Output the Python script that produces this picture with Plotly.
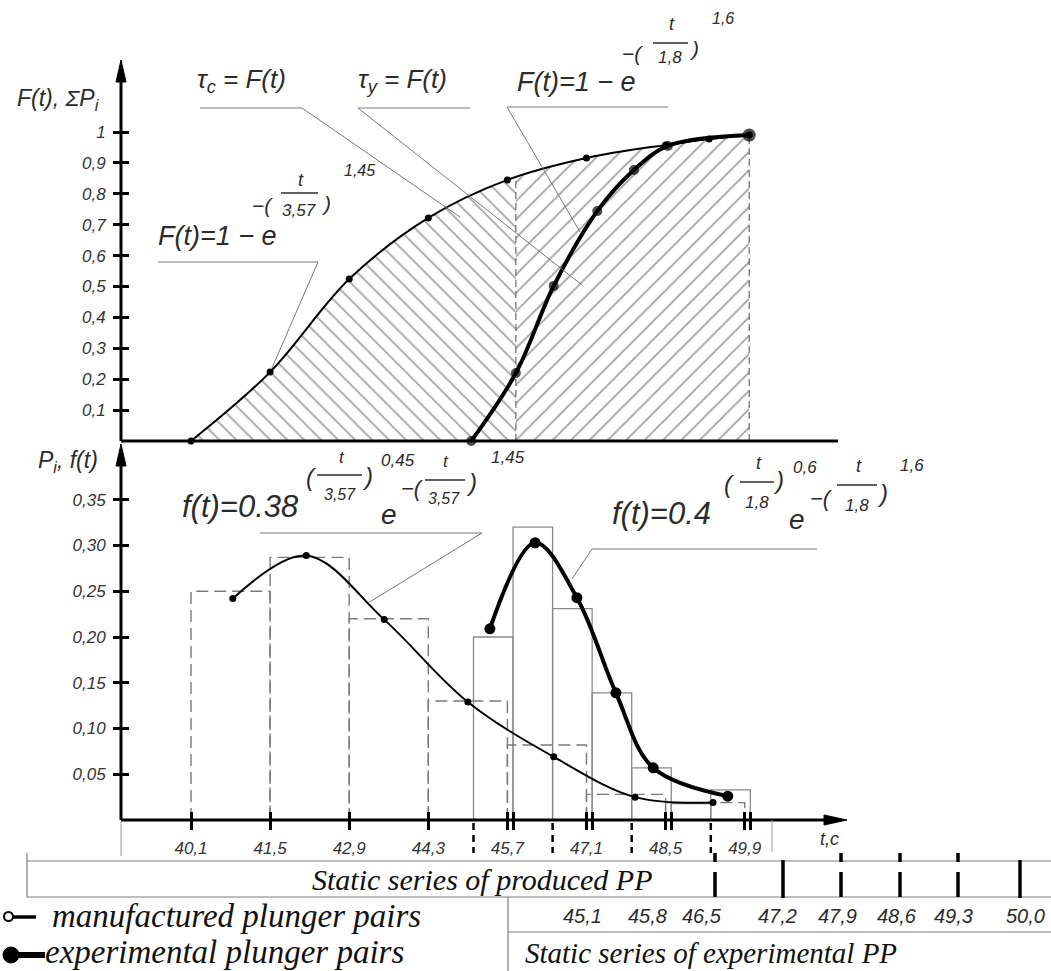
import plotly.graph_objects as go
import numpy as np

# ---------------- data ----------------
prod_edges = [40.1, 41.5, 42.9, 44.3, 45.7, 47.1, 48.5, 49.9]
prod_freq = [0.250, 0.287, 0.220, 0.130, 0.082, 0.028, 0.019]
exp_edges = [45.1, 45.8, 46.5, 47.2, 47.9, 48.6, 49.3, 50.0]
exp_freq = [0.200, 0.320, 0.231, 0.139, 0.057, 0.018, 0.033]

prod_cdf_t = [40.1, 41.5, 42.9, 44.3, 45.7, 47.1, 48.5, 49.27, 49.98]
prod_cdf = [0.0, 0.223, 0.524, 0.722, 0.845, 0.916, 0.958, 0.977, 0.990]
exp_cdf_t = [45.06, 45.85, 46.52, 47.29, 47.94, 48.54, 49.98]
exp_cdf = [0.0, 0.220, 0.502, 0.744, 0.877, 0.955, 0.990]

prod_pdf_t = [40.84, 42.14, 43.52, 45.00, 46.52, 47.96, 49.34]
prod_pdf = [0.242, 0.289, 0.219, 0.129, 0.069, 0.025, 0.019]
exp_pdf_t = [45.39, 46.19, 46.93, 47.62, 48.28, 49.60]
exp_pdf = [0.209, 0.303, 0.243, 0.139, 0.057, 0.026]

split_t, split_F = 45.85, 0.850      # boundary between tau_c and tau_y regions
end_t, end_F = 49.98, 0.990

F_ticks = [0.1, 0.2, 0.3, 0.4, 0.5, 0.6, 0.7, 0.8, 0.9, 1.0]
F_ticktext = ["0,1", "0,2", "0,3", "0,4", "0,5", "0,6", "0,7", "0,8", "0,9", "1"]
P_ticks = [0.05, 0.10, 0.15, 0.20, 0.25, 0.30, 0.35]
P_ticktext = ["0,05", "0,10", "0,15", "0,20", "0,25", "0,30", "0,35"]
prod_ticktext = ["40,1", "41,5", "42,9", "44,3", "45,7", "47,1", "48,5", "49,9"]
exp_ticktext = ["45,1", "45,8", "46,5", "47,2", "47,9", "48,6", "49,3", "50,0"]

# ---------------- layout geometry (pixels) ----------------
W, H = 1051, 971
PX_T0, T0, PX_PER_T = 191, 40.1, 56.5
PY_F0, PX_PER_F = 441, 309
PY_P0, PX_PER_P = 820, 915


def t_at(px):
    return T0 + (px - PX_T0) / PX_PER_T


def F_at(py):
    return (PY_F0 - py) / PX_PER_F


def P_at(py):
    return (PY_P0 - py) / PX_PER_P


def xp(px):
    return px / W


def yp(py):
    return 1 - py / H


GOST = "Liberation Sans, Arial, sans-serif"
SERIF = "Liberation Serif, DejaVu Serif, serif"
INK = "#2b2b2b"

fig = go.Figure()

# ---------------- top panel: hatched areas ----------------
fig.add_trace(go.Scatter(
    x=prod_cdf_t[:5] + [split_t], y=prod_cdf[:5] + [split_F],
    mode="lines", line=dict(width=0, shape="spline"), fill="tozeroy",
    fillcolor="rgba(0,0,0,0)",
    fillpattern=dict(shape="\\", size=12, solidity=0.14, fgcolor="#444444",
                     bgcolor="rgba(0,0,0,0)"),
    xaxis="x", yaxis="y", hoverinfo="skip", showlegend=False))
fig.add_trace(go.Scatter(
    x=[split_t] + prod_cdf_t[5:], y=[split_F] + prod_cdf[5:],
    mode="lines", line=dict(width=0, shape="spline"), fill="tozeroy",
    fillcolor="rgba(0,0,0,0)",
    fillpattern=dict(shape="/", size=13, solidity=0.14, fgcolor="#444444",
                     bgcolor="rgba(0,0,0,0)"),
    xaxis="x", yaxis="y", hoverinfo="skip", showlegend=False))
# dashed region boundaries
for tt, ff in [(split_t, split_F), (end_t, end_F)]:
    fig.add_trace(go.Scatter(x=[tt, tt], y=[0, ff], mode="lines",
                             line=dict(color="#6a6a6a", width=1.2, dash="7px,4px"),
                             xaxis="x", yaxis="y", hoverinfo="skip", showlegend=False))

# cumulative curves
fig.add_trace(go.Scatter(x=prod_cdf_t, y=prod_cdf, mode="lines+markers",
                         line=dict(color="black", width=2, shape="spline"),
                         marker=dict(size=7, color="black", line=dict(width=0)),
                         xaxis="x", yaxis="y", hoverinfo="skip", showlegend=False))
fig.add_trace(go.Scatter(x=exp_cdf_t, y=exp_cdf, mode="lines+markers",
                         line=dict(color="black", width=4, shape="spline"),
                         marker=dict(size=[10] * (len(exp_cdf) - 1) + [13], color="black",
                                     line=dict(width=0)),
                         xaxis="x", yaxis="y", hoverinfo="skip", showlegend=False))

# ---------------- bottom panel: histograms ----------------
hx, hy = [], []
for i, h in enumerate(prod_freq):
    a, b = prod_edges[i], prod_edges[i + 1]
    hx += [a, a, b, b, None]
    hy += [0, h, h, 0, None]
fig.add_trace(go.Scatter(x=hx, y=hy, mode="lines",
                         line=dict(color="#7a7a7a", width=1.4, dash="12px,6px"),
                         xaxis="x", yaxis="y2", hoverinfo="skip", showlegend=False))
fig.add_trace(go.Bar(x=exp_edges[:-1], y=exp_freq, width=list(np.diff(exp_edges)),
                     offset=0, marker=dict(color="rgba(0,0,0,0)",
                                           line=dict(color="#8a8a8a", width=1.3)),
                     xaxis="x", yaxis="y2", hoverinfo="skip", showlegend=False))
fig.add_trace(go.Scatter(x=prod_pdf_t, y=prod_pdf, mode="lines+markers",
                         line=dict(color="black", width=2, shape="spline"),
                         marker=dict(size=7, color="black", line=dict(width=0)),
                         xaxis="x", yaxis="y2", hoverinfo="skip", showlegend=False))
fig.add_trace(go.Scatter(x=exp_pdf_t, y=exp_pdf, mode="lines+markers",
                         line=dict(color="black", width=4, shape="spline"),
                         marker=dict(size=11, color="black", line=dict(width=0)),
                         xaxis="x", yaxis="y2", hoverinfo="skip", showlegend=False))

shapes = []
annotations = []


def seg(x0, y0, x1, y1, color="black", width=1, dash=None):
    shapes.append(dict(type="line", xref="paper", yref="paper",
                       x0=xp(x0), y0=yp(y0), x1=xp(x1), y1=yp(y1),
                       line=dict(color=color, width=width, dash=dash)))


def poly(pts, color="#777777", width=1, fill=None):
    path = "M " + " L ".join(f"{xp(a)} {yp(b)}" for a, b in pts)
    if fill:
        path += " Z"
    shapes.append(dict(type="path", xref="paper", yref="paper", path=path,
                       line=dict(color=color, width=width),
                       fillcolor=fill if fill else "rgba(0,0,0,0)"))


def txt(s, px, py, size, xanchor="center", family=GOST, color=INK, style="italic"):
    annotations.append(dict(text=s, x=xp(px), y=yp(py), xref="paper", yref="paper",
                            xanchor=xanchor, yanchor="middle", showarrow=False, borderpad=0,
                            font=dict(family=family, size=size, color=color, style=style)))


def frac(num, den, cx, x0, x1, ybar, ynum, yden, size=17):
    txt(num, cx + 2, ynum, size + 1)
    txt(den, cx, yden, size)
    seg(x0, ybar, x1, ybar, color=INK, width=1.6)


# ---------------- axes lines with arrows ----------------
AX_PX = 121
seg(AX_PX, PY_F0, 838, PY_F0, width=3)          # top panel t axis
seg(AX_PX, PY_F0, AX_PX, 78, width=3)           # F axis
poly([(AX_PX, 60), (AX_PX - 5, 82), (AX_PX + 5, 82)], color="black", width=1, fill="black")
seg(AX_PX, PY_P0, AX_PX, 462, width=3)          # P axis
poly([(AX_PX, 444), (AX_PX - 5, 466), (AX_PX + 5, 466)], color="black", width=1, fill="black")
seg(AX_PX, PY_P0, 828, PY_P0, width=3)          # bottom t axis
poly([(847, PY_P0), (824, PY_P0 - 5), (824, PY_P0 + 5)], color="black", width=1, fill="black")

# dashed marks below the axis at odd experimental edges
for e in exp_edges[::2]:
    shapes.append(dict(type="line", xref="x", yref="paper", x0=e, x1=e,
                       y0=yp(823), y1=yp(853), line=dict(color="black", width=2.5, dash="7px,5px")))
# thin frame lines under the axis
seg(AX_PX, 822, AX_PX, 856, color="#9a9a9a", width=1)
seg(772, 820, 772, 852, color="#9a9a9a", width=1)

# ---------------- text: top panel ----------------
txt("F(t), ΣP<sub>i</sub>", 16, 99, 23, xanchor="left")
txt("τ<sub>c</sub> = F(t)", 196, 80, 26, xanchor="left")
txt("τ<sub>y</sub> = F(t)", 357, 80, 26, xanchor="left")
poly([(200, 108), (302, 108), (460, 217)])
poly([(470, 108), (358, 108), (582, 285)])

txt("F(t)=1 − e", 157, 236, 27, xanchor="left")
txt("−(", 251, 205, 21, xanchor="left")
frac("t", "3,57", 299, 281, 318, 193, 180, 210)
txt(")", 326, 203, 21)
txt("1,45", 359, 170, 16)
poly([(158, 262), (318, 262), (272, 368)])

txt("F(t)=1 − e", 516, 82, 27, xanchor="left")
txt("−(", 621, 54, 21, xanchor="left")
frac("t", "1,8", 670, 653, 688, 43, 24, 58)
txt(")", 694, 48, 21)
txt("1,6", 723, 19, 16)
poly([(668, 107), (507, 107), (580, 232)])

# ---------------- text: bottom panel ----------------
txt("P<sub>i</sub>, f(t)", 37, 462, 23, xanchor="left")

txt("f(t)=0.38", 181, 507, 31, xanchor="left")
txt("(", 311, 477, 24)
frac("t", "3,57", 340, 317, 362, 475, 457, 494, size=16)
txt(")", 367, 476, 24)
txt("0,45", 398, 460, 17)
txt("e", 389, 514, 28)
txt("−(", 400, 489, 22, xanchor="left")
frac("t", "3,57", 444, 425, 465, 480, 462, 498, size=16)
txt(")", 471, 483, 24)
txt("1,45", 508, 457, 17)
poly([(260, 533), (482, 533), (368, 603)])

txt("f(t)=0.4", 611, 513, 31, xanchor="left")
txt("(", 729, 485, 24)
frac("t", "1,8", 757, 740, 774, 482, 463, 502)
txt(")", 778, 480, 24)
txt("0,6", 805, 467, 17)
txt("e", 797, 519, 28)
txt("−(", 809, 498, 22, xanchor="left")
frac("t", "1,8", 857, 837, 877, 485, 466, 505)
txt(")", 882, 493, 24)
txt("1,6", 912, 465, 17)
poly([(817, 549), (592, 549), (572, 579)])

txt("t,c", 829, 839, 18)

# ---------------- tables ----------------
TBL = "#7d7d7d"
seg(27, 853, 27, 897, color=TBL, width=1.2)
seg(27, 861, W, 861, color=TBL, width=1.2)
seg(27, 897, W, 897, color=TBL, width=1.2)
seg(508, 897, 508, H, color=TBL, width=1.2)
seg(508, 932, W, 932, color=TBL, width=1.2)
txt("Static series of produced PP", 482, 879, 30, family=SERIF, color="#111111")
txt("Static series of experimental PP", 524, 953, 29, xanchor="left", family=SERIF, color="#111111")

exp_label_px = [582, 647, 702, 777, 837, 897, 953, 1025]
for lab, px in zip(exp_ticktext, exp_label_px):
    txt(lab, px, 916, 20)
# marks above the labels (46,5 ... 50,0)
mark_dashed = [True, False, True, True, True, False]
for px, d in zip([715, 783, 841, 900, 958, 1020], mark_dashed):
    if d:
        seg(px, 853, px, 862, width=3.5)
        seg(px, 872, px, 897, width=3.5)
    else:
        seg(px, 860, px, 898, width=3.5)

# ---------------- legend ----------------
shapes.append(dict(type="circle", xref="paper", yref="paper",
                   x0=xp(4), x1=xp(13), y0=yp(912), y1=yp(921),
                   line=dict(color="black", width=2), fillcolor="white"))
seg(13, 917, 36, 917, width=3.5)
txt("manufactured plunger pairs", 51, 916, 33, xanchor="left", family=SERIF, color="#111111")
shapes.append(dict(type="circle", xref="paper", yref="paper",
                   x0=xp(3), x1=xp(19), y0=yp(947), y1=yp(963),
                   line=dict(color="black", width=1), fillcolor="black"))
seg(16, 955, 45, 955, width=6)
txt("experimental plunger pairs", 44, 952, 33, xanchor="left", family=SERIF, color="#111111")

tickfont = dict(family=GOST, size=17, color="#333333", style="italic")
fig.update_layout(
    width=W, height=H, margin=dict(l=0, r=0, t=0, b=0),
    paper_bgcolor="white", plot_bgcolor="white", showlegend=False,
    xaxis=dict(range=[t_at(0), t_at(W)], domain=[0, 1], anchor="free", position=yp(811),
               tickmode="array", tickvals=prod_edges, ticktext=prod_ticktext,
               ticks="outside", ticklen=18, tickwidth=2.5, tickcolor="black",
               ticklabelstandoff=4, tickfont=tickfont,
               minor=dict(tickmode="array", tickvals=exp_edges[1::2], ticks="outside",
                          ticklen=18, tickwidth=2.5, tickcolor="black", showgrid=False),
               showgrid=False, zeroline=False, showline=False, fixedrange=True),
    yaxis=dict(range=[F_at(H), F_at(0)], domain=[0, 1], anchor="free", position=xp(129),
               side="left", tickmode="array", tickvals=F_ticks, ticktext=F_ticktext,
               ticks="outside", ticklen=16, tickwidth=2.5, tickcolor="black",
               ticklabelstandoff=4, tickfont=tickfont,
               showgrid=False, zeroline=False, showline=False, fixedrange=True),
    yaxis2=dict(range=[P_at(H), P_at(0)], domain=[0, 1], anchor="free", position=xp(129),
                overlaying="y", side="left", tickmode="array", tickvals=P_ticks,
                ticktext=P_ticktext, ticks="outside", ticklen=16, tickwidth=2.5,
                tickcolor="black", ticklabelstandoff=4, tickfont=tickfont,
                showgrid=False, zeroline=False, showline=False, fixedrange=True),
    shapes=shapes, annotations=annotations,
)

fig.write_html("out.html", config={"displayModeBar": False},
               post_script="document.body.style.margin='0';document.body.style.padding='0';"
                           "document.body.style.overflow='hidden';")
